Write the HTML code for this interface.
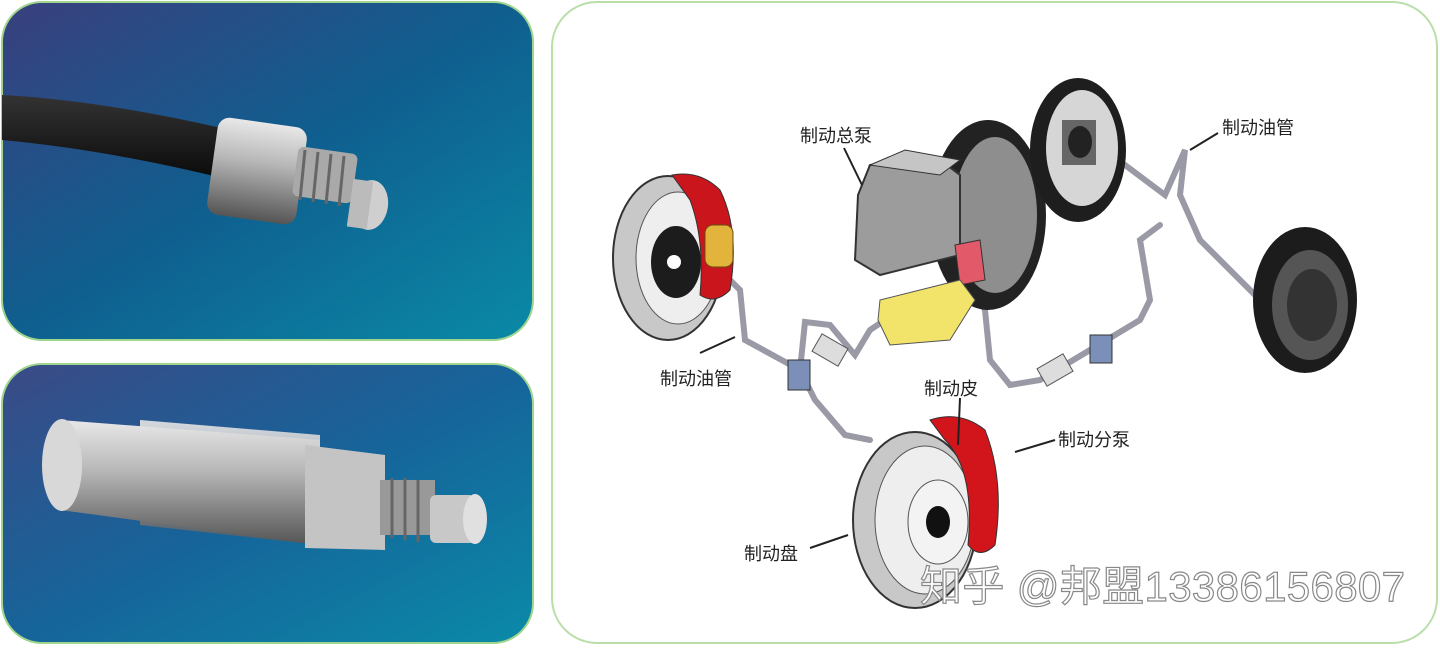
<!DOCTYPE html>
<html><head><meta charset="utf-8"><style>
body{margin:0;width:1440px;height:645px;background:#fff;overflow:hidden;font-family:"Liberation Sans","Noto Sans CJK SC",sans-serif}
</style></head><body>
<svg width="1440" height="645" viewBox="0 0 1440 645" xmlns="http://www.w3.org/2000/svg">
<defs>
<linearGradient id="bg1" x1="0" y1="0" x2="1" y2="1"><stop offset="0" stop-color="#3a3f7e"/><stop offset="0.5" stop-color="#0f5f8f"/><stop offset="1" stop-color="#0a8aa6"/></linearGradient>
<linearGradient id="bg2" x1="0" y1="0" x2="1" y2="1"><stop offset="0" stop-color="#3b4a86"/><stop offset="0.5" stop-color="#16649a"/><stop offset="1" stop-color="#0a8aa8"/></linearGradient>
<linearGradient id="metal" x1="0" y1="0" x2="0" y2="1"><stop offset="0" stop-color="#e8e8e8"/><stop offset="0.4" stop-color="#b8b8b8"/><stop offset="1" stop-color="#555"/></linearGradient>
<linearGradient id="cab" x1="0" y1="0" x2="0" y2="1"><stop offset="0" stop-color="#333"/><stop offset="1" stop-color="#0a0a0a"/></linearGradient>
</defs>
<rect x="2" y="2" width="531" height="338" rx="40" fill="url(#bg1)" stroke="#9fd58c" stroke-width="2"/>
<rect x="2" y="364" width="531" height="279" rx="40" fill="url(#bg2)" stroke="#9fd58c" stroke-width="2"/>
<path d="M2 95 Q100 100 230 130 L230 180 Q110 150 2 140 Z" fill="url(#cab)"/>
<rect x="212" y="122" width="90" height="98" rx="12" fill="url(#metal)" transform="rotate(8 257 171)"/>
<rect x="295" y="150" width="60" height="50" rx="6" fill="#a9a9a9" transform="rotate(8 325 175)"/>
<g stroke="#666" stroke-width="3"><line x1="305" y1="150" x2="300" y2="200"/><line x1="318" y1="152" x2="313" y2="202"/><line x1="331" y1="154" x2="326" y2="204"/><line x1="344" y1="156" x2="339" y2="206"/></g>
<ellipse cx="370" cy="205" rx="18" ry="25" fill="#cfcfcf" transform="rotate(8 370 205)"/>
<rect x="350" y="180" width="20" height="48" fill="#bbb" transform="rotate(8 360 204)"/>
<path d="M60 420 L320 440 L320 545 L60 510 Z" fill="url(#metal)"/>
<ellipse cx="62" cy="465" rx="20" ry="46" fill="#d8d8d8"/>
<path d="M140 420 L320 435 L320 545 L140 525 Z" fill="url(#metal)" opacity=".9"/>
<path d="M305 445 L385 455 L385 550 L305 548 Z" fill="#c4c4c4"/>
<rect x="380" y="480" width="55" height="55" fill="#999"/>
<g stroke="#666" stroke-width="3"><line x1="392" y1="478" x2="392" y2="538"/><line x1="405" y1="478" x2="405" y2="540"/><line x1="418" y1="480" x2="418" y2="542"/></g>
<rect x="430" y="495" width="45" height="48" rx="6" fill="#c8c8c8"/>
<ellipse cx="475" cy="519" rx="12" ry="25" fill="#e0e0e0"/>
<rect x="552" y="2" width="885" height="641" rx="45" fill="#fff" stroke="#b9dea8" stroke-width="2"/>
<g fill="none" stroke="#9a9aa6" stroke-width="6" stroke-linecap="round">
<path d="M725 275 L740 290 L745 340 L800 370 L815 400 L845 435 L870 440"/>
<path d="M800 370 L805 322 L830 325 L855 355 L870 330 L885 320"/>
<path d="M975 290 L985 310 L990 360 L1010 385 L1040 380 L1090 350 L1140 320 L1150 300 L1140 240 L1160 225"/>
<path d="M1105 150 L1165 195 L1185 150 L1180 195 L1200 240 L1260 300"/>
</g>
<ellipse cx="668" cy="258" rx="55" ry="82" fill="#c8c8c8" stroke="#333" stroke-width="2"/>
<ellipse cx="678" cy="258" rx="42" ry="66" fill="#eee" stroke="#555"/>
<ellipse cx="676" cy="262" rx="25" ry="36" fill="#1c1c1c"/>
<circle cx="674" cy="262" r="7" fill="#fff"/>
<path d="M672 175 Q700 170 720 190 Q740 230 730 290 Q715 305 700 295 Q705 240 690 200 Z" fill="#c9151b" stroke="#333"/>
<rect x="705" y="225" width="28" height="42" rx="8" fill="#e3b43c" stroke="#6b4d10"/>
<ellipse cx="988" cy="215" rx="58" ry="95" fill="#222"/>
<ellipse cx="995" cy="215" rx="42" ry="78" fill="#8e8e8e"/>
<path d="M858 195 L870 165 L940 160 L960 175 L960 255 L880 275 L855 260 Z" fill="#9c9c9c" stroke="#333" stroke-width="2"/>
<path d="M870 165 L905 150 L960 160 L940 175 Z" fill="#c5c5c5" stroke="#333"/>
<path d="M955 245 L980 240 L985 280 L960 285 Z" fill="#e25a6a" stroke="#333"/>
<path d="M880 300 L960 280 L975 300 L950 340 L890 345 L878 320 Z" fill="#f2e46a" stroke="#555"/>
<ellipse cx="1078" cy="150" rx="48" ry="72" fill="#1e1e1e"/>
<ellipse cx="1082" cy="148" rx="36" ry="58" fill="#d6d6d6"/>
<rect x="1062" y="120" width="34" height="45" fill="#666"/>
<ellipse cx="1080" cy="142" rx="12" ry="16" fill="#222"/>
<ellipse cx="1305" cy="300" rx="52" ry="73" fill="#1c1c1c"/>
<ellipse cx="1310" cy="305" rx="38" ry="55" fill="#555"/>
<ellipse cx="1312" cy="305" rx="25" ry="36" fill="#333"/>
<rect x="788" y="360" width="22" height="30" fill="#7b8fb8" stroke="#333"/>
<rect x="1090" y="335" width="22" height="28" fill="#7b8fb8" stroke="#333"/>
<rect x="815" y="340" width="30" height="20" fill="#ddd" stroke="#555" transform="rotate(30 830 350)"/>
<rect x="1040" y="360" width="30" height="20" fill="#ddd" stroke="#555" transform="rotate(-30 1055 370)"/>
<ellipse cx="915" cy="520" rx="62" ry="88" fill="#c8c8c8" stroke="#333" stroke-width="2"/>
<ellipse cx="925" cy="520" rx="50" ry="74" fill="#eee" stroke="#555"/>
<ellipse cx="938" cy="522" rx="30" ry="42" fill="#f3f3f3" stroke="#555"/>
<ellipse cx="938" cy="522" rx="12" ry="16" fill="#111"/>
<path d="M930 420 Q960 410 985 430 Q1005 480 995 545 Q980 560 968 545 Q975 470 945 440 Z" fill="#d2141b" stroke="#333"/>
<g stroke="#222" stroke-width="2" fill="#222">
<line x1="844" y1="148" x2="862" y2="185"/>
<line x1="1218" y1="133" x2="1190" y2="150"/>
<line x1="700" y1="353" x2="735" y2="337"/>
<line x1="960" y1="398" x2="958" y2="445"/>
<line x1="1055" y1="440" x2="1015" y2="452"/>
<line x1="810" y1="548" x2="848" y2="535"/>
</g>
<g font-size="18" fill="#222" font-family="Liberation Sans,Noto Sans CJK SC,sans-serif">
<text x="800" y="142">制动总泵</text>
<text x="1222" y="134">制动油管</text>
<text x="660" y="385">制动油管</text>
<text x="924" y="395">制动皮</text>
<text x="1058" y="446">制动分泵</text>
<text x="744" y="560">制动盘</text>
</g>
<text x="920" y="601" font-size="42" fill="#fff" stroke="#888" stroke-width="1.2" textLength="485" font-family="Liberation Sans,Noto Sans CJK SC,sans-serif">知乎 @邦盟13386156807</text>
</svg>
</body></html>
